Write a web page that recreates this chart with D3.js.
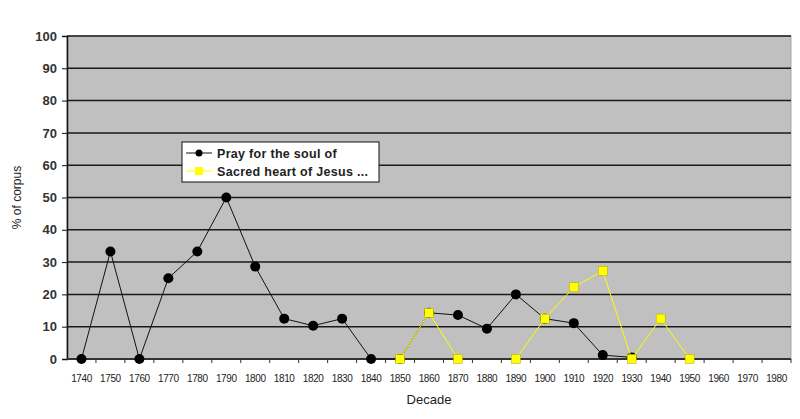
<!DOCTYPE html>
<html>
<head>
<meta charset="utf-8">
<script src="https://cdn.jsdelivr.net/npm/d3@7"></script>
<style>
  body { margin: 0; background: #fff; }
  text { font-family: "Liberation Sans", Arial, sans-serif; }
</style>
</head>
<body>
<svg id="svg" width="800" height="419"></svg>
<script>
const width = 800;
const height = 419;

const decades = [1740, 1750, 1760, 1770, 1780, 1790, 1800, 1810, 1820, 1830, 1840, 1850,
  1860, 1870, 1880, 1890, 1900, 1910, 1920, 1930, 1940, 1950, 1960, 1970, 1980];
// % of corpus per decade, null = no value
const prayValues = [0, 33.3, 0, 25, 33.3, 50, 28.6, 12.5, 10.3, 12.5, 0, 0,
  14.3, 13.6, 9.4, 20, 12.5, 11.1, 1.2, 0.5, null, null, null, null, null];
const sacredValues = [null, null, null, null, null, null, null, null, null, null, null, 0,
  14.3, 0, null, 0, 12.5, 22.2, 27.3, 0, 12.5, 0, null, null, null];
const yTicks = [0, 10, 20, 30, 40, 50, 60, 70, 80, 90, 100];

const margin = { top: 36, right: 9, bottom: 60, left: 67 };

const svg = d3.select("#svg");

const x = d3.scaleBand()
  .domain(decades)
  .range([margin.left, width - margin.right]);

const y = d3.scaleLinear()
  .domain([0, 100])
  .range([height - margin.bottom, margin.top]);

// plot background
svg.append("rect")
  .attr("x", margin.left)
  .attr("y", margin.top)
  .attr("width", width - margin.right - margin.left)
  .attr("height", height - margin.bottom - margin.top)
  .attr("fill", "#c0c0c0")
  .attr("stroke", "#a8a8a8");

// gridlines
svg.append("g")
  .selectAll("line")
  .data(yTicks.filter((d) => d > 0))
  .enter()
  .append("line")
  .attr("x1", margin.left)
  .attr("x2", width - margin.right)
  .attr("y1", (d) => y(d))
  .attr("y2", (d) => y(d))
  .attr("stroke", "#1a1a1a")
  .attr("stroke-width", 1.5);

// y axis
const yAxis = svg.append("g")
  .attr("transform", `translate(${margin.left},0)`)
  .call(d3.axisLeft(y).tickValues(yTicks).tickSize(5).tickPadding(5));
yAxis.select(".domain").attr("stroke", "#111").attr("stroke-width", 1.5);
yAxis.selectAll(".tick line").attr("stroke", "#111");
yAxis.selectAll("text")
  .attr("font-size", 13)
  .attr("font-weight", "bold")
  .attr("fill", "#333")
  .style("font-family", "'Liberation Sans', Arial, sans-serif");

// x axis: ticks at band boundaries
const xAxisG = svg.append("g")
  .attr("transform", `translate(0,${height - margin.bottom})`);
xAxisG.append("line")
  .attr("x1", margin.left)
  .attr("x2", width - margin.right)
  .attr("stroke", "#333")
  .attr("stroke-width", 2);
xAxisG.selectAll(".xtick")
  .data(decades)
  .enter()
  .append("line")
  .attr("class", "xtick")
  .attr("x1", (d) => x(d) + x.bandwidth())
  .attr("x2", (d) => x(d) + x.bandwidth())
  .attr("y1", 0)
  .attr("y2", 4)
  .attr("stroke", "#333");
xAxisG.selectAll(".xlabel")
  .data(decades)
  .enter()
  .append("text")
  .attr("class", "xlabel")
  .attr("x", (d) => x(d) + x.bandwidth() / 2)
  .attr("y", 23)
  .attr("text-anchor", "middle")
  .attr("font-size", 10)
  .attr("fill", "#222")
  .attr("letter-spacing", -0.4)
  .text((d) => d);

// axis titles
svg.append("text")
  .attr("x", (margin.left + width - margin.right) / 2)
  .attr("y", 404)
  .attr("text-anchor", "middle")
  .attr("font-size", 13)
  .attr("fill", "#222")
  .text("Decade");

svg.append("text")
  .attr("transform", `translate(21,${(margin.top + height - margin.bottom) / 2}) rotate(-90)`)
  .attr("text-anchor", "middle")
  .attr("font-size", 12)
  .attr("fill", "#222")
  .text("% of corpus");

const cx = (i) => x(decades[i]) + x.bandwidth() / 2;
const line = d3.line()
  .defined((d) => d != null)
  .x((d, i) => cx(i))
  .y((d) => y(d));

// pray series
svg.append("path")
  .datum(prayValues)
  .attr("d", line)
  .attr("fill", "none")
  .attr("stroke", "#111")
  .attr("stroke-width", 1);
svg.append("g")
  .selectAll("circle")
  .data(prayValues.map((v, i) => ({ v, i })).filter((d) => d.v != null))
  .enter()
  .append("circle")
  .attr("cx", (d) => cx(d.i))
  .attr("cy", (d) => y(d.v))
  .attr("r", 5)
  .attr("fill", "#000");

// sacred heart series
svg.append("path")
  .datum(sacredValues)
  .attr("d", line)
  .attr("fill", "none")
  .attr("stroke", "#ffff00")
  .attr("stroke-width", 1);
svg.append("g")
  .selectAll("rect")
  .data(sacredValues.map((v, i) => ({ v, i })).filter((d) => d.v != null))
  .enter()
  .append("rect")
  .attr("x", (d) => cx(d.i) - 4.5)
  .attr("y", (d) => y(d.v) - 4.5)
  .attr("width", 9)
  .attr("height", 9)
  .attr("fill", "#ffff00")
  .attr("stroke", "#b0a800")
  .attr("stroke-width", 0.5);

// legend
const legend = svg.append("g").attr("transform", "translate(182,142)");
legend.append("rect")
  .attr("width", 197)
  .attr("height", 40)
  .attr("fill", "#fff")
  .attr("stroke", "#111")
  .attr("stroke-width", 1);
const legendItems = [
  { name: "Pray for the soul of", color: "#111", shape: "circle" },
  { name: "Sacred heart of Jesus ...", color: "#ffff00", shape: "square" }
];
legendItems.forEach((item, i) => {
  const g = legend.append("g").attr("transform", `translate(0,${11 + i * 18})`);
  g.append("line")
    .attr("x1", 4).attr("x2", 30)
    .attr("stroke", item.color).attr("stroke-width", 1);
  if (item.shape === "circle") {
    g.append("circle").attr("cx", 17).attr("r", 3.5).attr("fill", "#000");
  } else {
    g.append("rect").attr("x", 13).attr("y", -4).attr("width", 8).attr("height", 8)
      .attr("fill", "#ffff00");
  }
  g.append("text")
    .attr("x", 35)
    .attr("y", 4.5)
    .attr("font-size", 12.5)
    .attr("font-weight", "bold")
    .attr("letter-spacing", 0.3)
    .attr("fill", "#222")
    .text(item.name);
});
</script>
</body>
</html>
